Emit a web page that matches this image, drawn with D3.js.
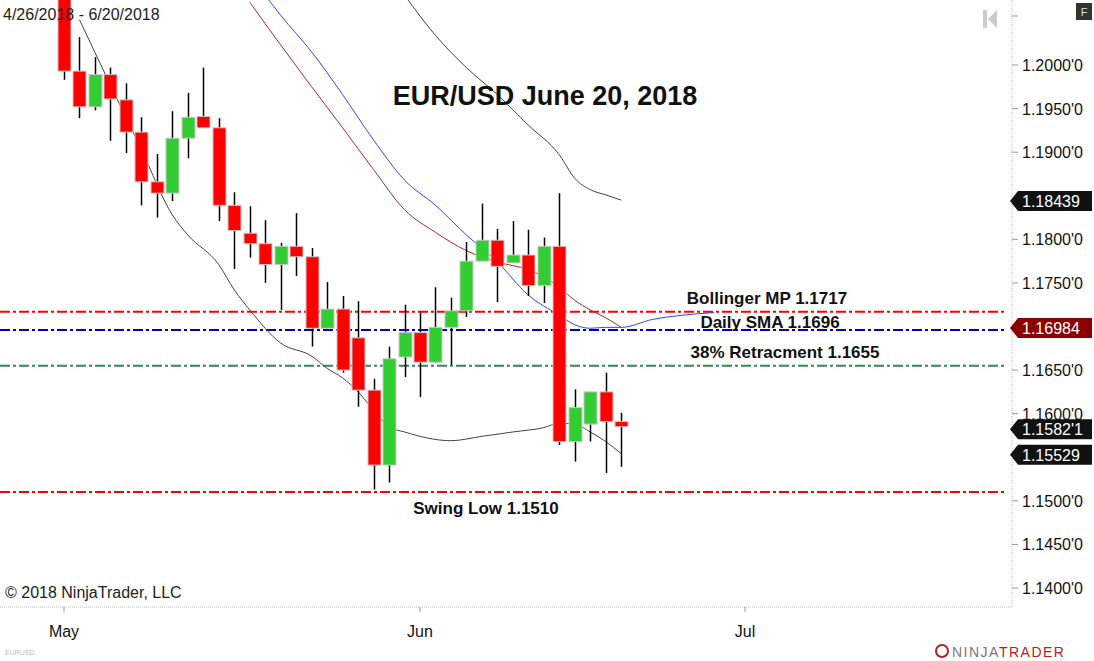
<!DOCTYPE html>
<html><head><meta charset="utf-8">
<script src="https://cdn.jsdelivr.net/npm/d3@7"></script>
<style>body{margin:0;background:#fff}svg{display:block;font-family:Arial,"Liberation Sans",sans-serif}</style>
</head><body><svg id="c" width="1094" height="661"></svg>
<script>
// trading days May 1 .. Jun 20, 2018
const dates = ['2018-05-01','2018-05-02','2018-05-03','2018-05-04','2018-05-07','2018-05-08','2018-05-09','2018-05-10','2018-05-11',
  '2018-05-14','2018-05-15','2018-05-16','2018-05-17','2018-05-18','2018-05-21','2018-05-22','2018-05-23','2018-05-24','2018-05-25',
  '2018-05-28','2018-05-29','2018-05-30','2018-05-31','2018-06-01','2018-06-04','2018-06-05','2018-06-06','2018-06-07','2018-06-08',
  '2018-06-11','2018-06-12','2018-06-13','2018-06-14','2018-06-15','2018-06-18','2018-06-19','2018-06-20'];
const opens  = [1.2097,1.1993,1.1952,1.1989,1.1960,1.1923,1.1866,1.1853,1.1916,1.1941,1.1928,1.1839,1.1807,1.1795,1.1771,1.1792,1.1780,1.1698,1.1720,
  1.1687,1.1627,1.1541,1.1665,1.1693,1.1659,1.1699,1.1718,1.1775,1.1799,1.1773,1.1782,1.1747,1.1792,1.1568,1.1588,1.1625,1.1591];
const highs  = [1.2120,1.2032,1.2009,1.1997,1.1979,1.1940,1.1898,1.1947,1.1968,1.1997,1.1939,1.1854,1.1838,1.1822,1.1796,1.1830,1.1790,1.1751,1.1735,
  1.1729,1.1640,1.1677,1.1725,1.1716,1.1745,1.1733,1.1797,1.1841,1.1812,1.1821,1.1811,1.1802,1.1853,1.1628,1.1625,1.1647,1.1601];
const lows   = [1.1983,1.1939,1.1948,1.1913,1.1899,1.1839,1.1825,1.1844,1.1893,1.1928,1.1821,1.1766,1.1779,1.1750,1.1719,1.1758,1.1677,1.1698,1.1647,
  1.1608,1.1513,1.1521,1.1642,1.1619,1.1658,1.1656,1.1711,1.1775,1.1728,1.1773,1.1735,1.1727,1.1564,1.1545,1.1568,1.1532,1.1539];
const closes = [1.1993,1.1952,1.1989,1.1961,1.1923,1.1866,1.1853,1.1916,1.1940,1.1928,1.1839,1.1810,1.1795,1.1771,1.1792,1.1780,1.1698,1.1720,1.1650,
  1.1627,1.1541,1.1663,1.1693,1.1659,1.1699,1.1718,1.1775,1.1799,1.1769,1.1782,1.1747,1.1792,1.1568,1.1607,1.1625,1.1591,1.1585];

// indicator lines: [day index, price]
const bbLower = [[1,1.2052],[3,1.1977],[5,1.1903],[7,1.1828],[8,1.1805],[10,1.1771],[11,1.1742],[12,1.1719],[14,1.1681],[16,1.1666],[17,1.1652],
  [18,1.1641],[19,1.1625],[20,1.1604],[21,1.1585],[22,1.1579],[25,1.1569],[27,1.1574],[29,1.1579],[31,1.1584],[32,1.1589],[33,1.1588],[34,1.1579],[35,1.1568],[36,1.1554]];
const bbUpper = [[22,1.2080],[24,1.2034],[26,1.1997],[28,1.1966],[30,1.1931],[32,1.1897],[33,1.1870],[34,1.1857],[35,1.1851],[36,1.1845]];
const bbMid = [[12,1.2072],[14,1.2023],[16,1.1975],[18,1.1928],[20,1.1880],[22,1.1834],[24,1.1808],[26,1.1787],[28,1.1774],[30,1.1765],[31,1.1757],
  [32,1.1745],[33,1.1730],[34,1.1719],[35,1.1710],[36,1.1699]];
const sma = [[13,1.2080],[14,1.2057],[16,1.2015],[18,1.1966],[20,1.1914],[22,1.1868],[24,1.1839],[26,1.1805],[28,1.1774],[30,1.1736],[32,1.1713],
  [33,1.1702],[34,1.1698],[35,1.1699],[36,1.1699],[38,1.1708],[40,1.1713],[42,1.1716]];

const levels = [
  {v:1.1717, color:'#ff0000', label:'Bollinger MP 1.1717', lx:767, dy:-8},
  {v:1.1696, color:'#0000c8', label:'Daily SMA 1.1696', lx:770, dy:-2},
  {v:1.1655, color:'#2e8b57', label:'38% Retracment 1.1655', lx:785, dy:-8},
  {v:1.1510, color:'#ff0000', label:'Swing Low 1.1510', lx:486, dy:22}
];
const yTicks = [1.140,1.145,1.150,1.160,1.165,1.175,1.180,1.190,1.195,1.200];
const priceTags = [{v:1.18439, t:'1.18439', bg:'#111'},{v:1.16984, t:'1.16984', bg:'#8b0000'},{v:1.15821, t:"1.1582'1", bg:'#111'},{v:1.15529, t:'1.15529', bg:'#111'}];
const monthTicks = [{i:0, t:'May'},{i:23, t:'Jun'},{i:44, t:'Jul'}];

const svg = d3.select('#c');
const axisX = 1012, plotBottom = 607;
const x = d3.scaleLinear().domain([0, 23]).range([64, 420]);
const y = d3.scaleLinear().domain([1.14, 1.20]).range([588, 65]);

const plot = svg.append('g');
plot.append('clipPath').attr('id','clip').append('rect').attr('x',0).attr('y',0).attr('width',axisX).attr('height',plotBottom);
const g = plot.append('g').attr('clip-path','url(#clip)');

// frame
svg.append('line').attr('x1',axisX).attr('x2',axisX).attr('y1',0).attr('y2',plotBottom).attr('stroke','#bbb').attr('stroke-dasharray','1,1');
svg.append('line').attr('x1',0).attr('x2',axisX).attr('y1',plotBottom).attr('y2',plotBottom).attr('stroke','#bbb').attr('stroke-dasharray','1,1');

// levels
levels.forEach(l => {
  g.append('line').attr('x1',0).attr('x2',1004).attr('y1',y(l.v)).attr('y2',y(l.v))
    .attr('stroke',l.color).attr('stroke-width',2).attr('stroke-dasharray','10,3,3,3');
});

// indicator lines
const line = d3.line().x(d => x(d[0])).y(d => y(d[1])).curve(d3.curveMonotoneX);
g.append('path').datum(bbLower).attr('d',line).attr('fill','none').attr('stroke','#444').attr('stroke-width',1);
g.append('path').datum(bbUpper).attr('d',line).attr('fill','none').attr('stroke','#444').attr('stroke-width',1);
g.append('path').datum(bbMid).attr('d',line).attr('fill','none').attr('stroke','#a52a2a').attr('stroke-width',1);
g.append('path').datum(sma).attr('d',line).attr('fill','none').attr('stroke','#3344ee').attr('stroke-width',1);

// candles
const bw = 13;
dates.forEach((d, i) => {
  const cx = Math.round(x(i)) + 0.5;
  g.append('line').attr('x1',cx).attr('x2',cx).attr('y1',y(highs[i])).attr('y2',y(lows[i])).attr('stroke','#000').attr('stroke-width',1.5);
  const up = closes[i] >= opens[i];
  const top = y(Math.max(opens[i], closes[i])), bot = y(Math.min(opens[i], closes[i]));
  g.append('rect').attr('x',cx - bw/2).attr('y',top).attr('width',bw).attr('height',Math.max(2, bot - top))
    .attr('fill', up ? '#32cd32' : '#ff0000').attr('stroke','#c8c8c8').attr('stroke-width',1);
});

// level labels
levels.forEach(l => {
  svg.append('text').attr('x',l.lx).attr('y',y(l.v) + l.dy).attr('text-anchor','middle')
    .attr('font-size',17).attr('font-weight','bold').attr('fill','#111').text(l.label);
});

// y axis
yTicks.forEach(v => {
  svg.append('line').attr('x1',axisX).attr('x2',axisX+6).attr('y1',y(v)).attr('y2',y(v)).attr('stroke','#999');
  svg.append('text').attr('x',1022).attr('y',y(v)+6).attr('font-size',16).attr('fill','#111').text(d3.format('.4f')(v) + "'0");
});
svg.append('line').attr('x1',axisX).attr('x2',axisX+6).attr('y1',16).attr('y2',16).attr('stroke','#999');
priceTags.forEach(p => {
  const yy = y(p.v);
  svg.append('path').attr('d',`M${axisX-2},${yy} L${axisX+6},${yy-10} L1092,${yy-10} L1092,${yy+10} L${axisX+6},${yy+10} Z`).attr('fill',p.bg);
  svg.append('text').attr('x',1022).attr('y',yy+6).attr('font-size',16).attr('fill','#fff').text(p.t);
});

// x axis
monthTicks.forEach(m => {
  svg.append('line').attr('x1',x(m.i)).attr('x2',x(m.i)).attr('y1',plotBottom).attr('y2',plotBottom+5).attr('stroke','#999');
  svg.append('text').attr('x',x(m.i)).attr('y',637).attr('text-anchor','middle').attr('font-size',16).attr('fill','#111').text(m.t);
});

// texts
svg.append('text').attr('x',545).attr('y',105).attr('text-anchor','middle').attr('font-size',27).attr('font-weight','bold').attr('fill','#111').text('EUR/USD June 20, 2018');
svg.append('text').attr('x',3).attr('y',20).attr('font-size',16).attr('fill','#222').text('4/26/2018 - 6/20/2018');
svg.append('text').attr('x',5).attr('y',598).attr('font-size',16).attr('fill','#222').text('© 2018 NinjaTrader, LLC');
svg.append('text').attr('x',5).attr('y',655).attr('font-size',7).attr('fill','#bbb').text('EURUSD');
svg.append('rect').attr('x',1076).attr('y',3).attr('width',16).attr('height',17).attr('fill','#333');
svg.append('text').attr('x',1084).attr('y',16).attr('text-anchor','middle').attr('font-size',11).attr('fill','#ddd').text('F');
svg.append('path').attr('d','M983,10 h4 v18 h-4 Z M988,19 L997,10 L997,28 Z').attr('fill','#ccc');
const logo = svg.append('text').attr('x',952).attr('y',657).attr('font-size',14).attr('letter-spacing',1.5);
logo.append('tspan').attr('fill','#777').text('NINJA');
logo.append('tspan').attr('fill','#b22222').text('TRADER');
svg.append('circle').attr('cx',942).attr('cy',651).attr('r',6).attr('fill','none').attr('stroke','#b22222').attr('stroke-width',2);
</script></body></html>
